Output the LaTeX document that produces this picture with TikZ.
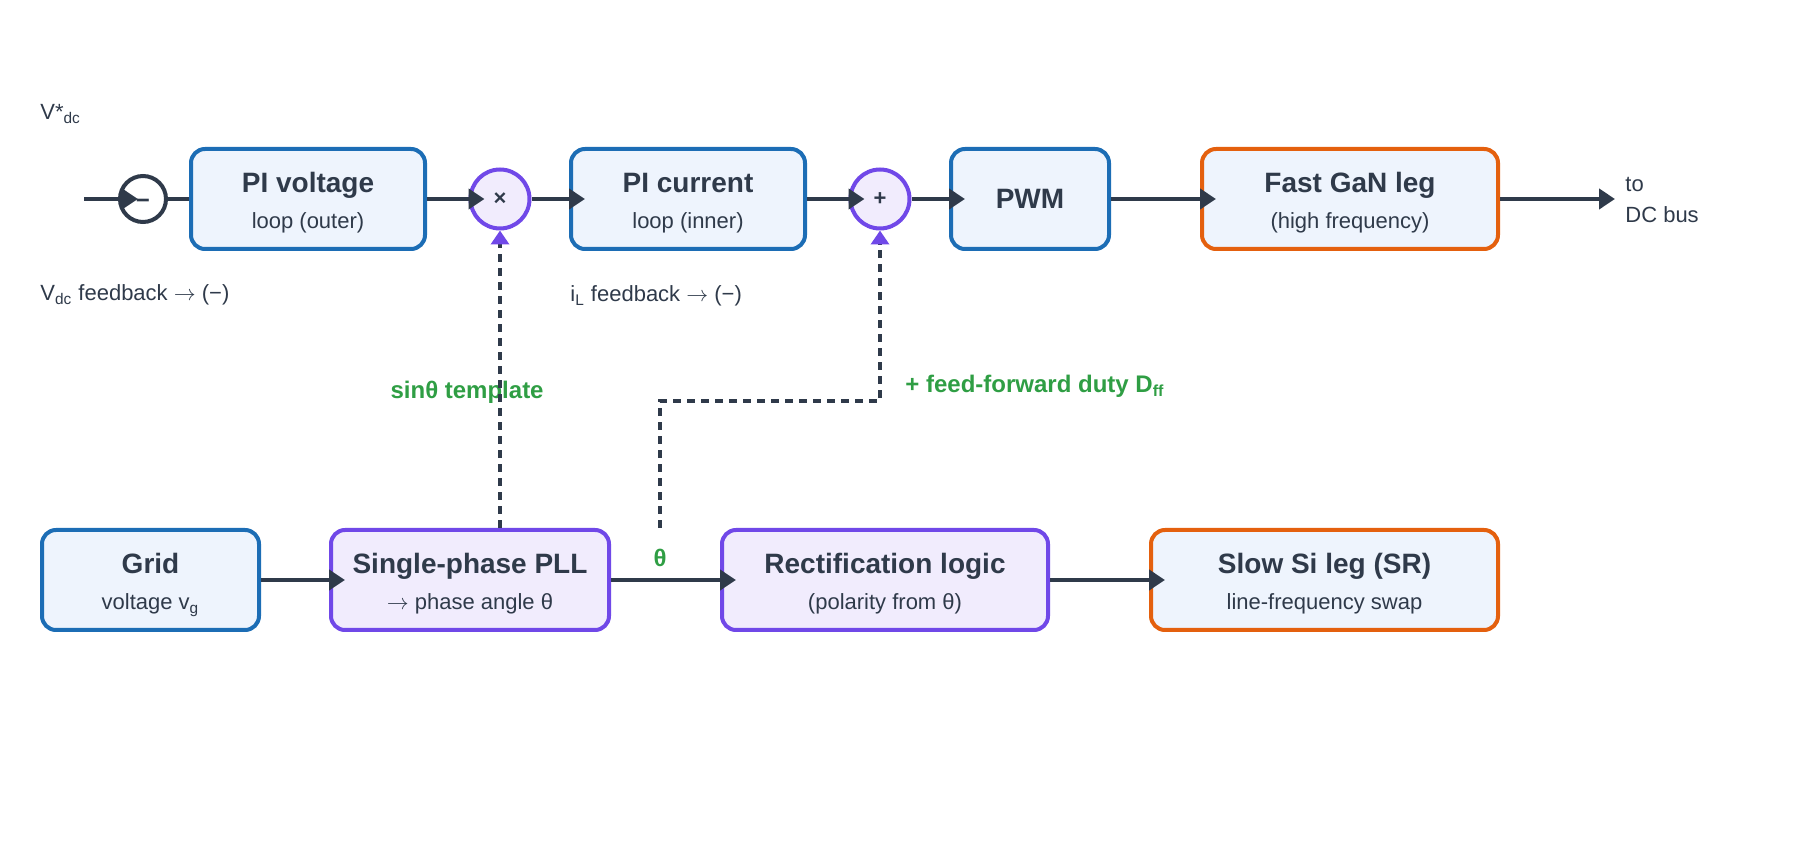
\documentclass[tikz,border=0pt]{standalone}
\usepackage{fontspec}
\setmainfont{Liberation Sans}
\usetikzlibrary{arrows.meta}
\definecolor{ink}{HTML}{2F3A4A}
\definecolor{cblue}{HTML}{1C6DB5}
\definecolor{cfill}{HTML}{EEF4FD}
\definecolor{cpurple}{HTML}{7048E8}
\definecolor{cpfill}{HTML}{F1ECFD}
\definecolor{corange}{HTML}{E4600E}
\definecolor{cgreen}{HTML}{2F9E44}
\newcommand{\rarr}{$\rightarrow$}
\begin{document}
\begin{tikzpicture}[x=0.5pt,y=-0.5pt,
  box/.style={draw, rounded corners=7pt, line width=2pt, inner sep=0pt, minimum height=50pt},
  bluebox/.style={box, draw=cblue, fill=cfill},
  purplebox/.style={box, draw=cpurple, fill=cpfill},
  orangebox/.style={box, draw=corange, fill=cfill},
  title/.style={anchor=base, font=\fontsize{14}{16}\selectfont\bfseries, text=ink, inner sep=0pt},
  sub/.style={anchor=base, font=\fontsize{11}{13}\selectfont, text=ink, inner sep=0pt},
  lbl/.style={anchor=base west, font=\fontsize{11}{13}\selectfont, text=ink, inner sep=0pt},
  glbl/.style={font=\fontsize{12}{14}\selectfont\bfseries, text=cgreen, inner sep=0pt},
  junction/.style={circle, line width=2pt, inner sep=0pt, minimum size=29.5pt, draw=cpurple, fill=cpfill, text=ink, font=\fontsize{11}{13}\selectfont\bfseries, text height=1.5ex, text depth=0.25ex},
  conn/.style={draw=ink, line width=2pt, -{Triangle[length=8pt,width=10pt]}, shorten >=-8pt},
  plainconn/.style={draw=ink, line width=2pt},
  dconn/.style={draw=ink, line width=2pt, dash pattern=on 4pt off 3pt, -{Triangle[length=7pt,width=9pt,color=cpurple]}}
]
\useasboundingbox (0,0) rectangle (1800,860);

% top row
\node[circle, draw=ink, fill=white, line width=2pt, inner sep=0pt, minimum size=23pt, text=ink, font=\fontsize{12}{14}\selectfont\bfseries, text height=1.5ex, text depth=0.25ex] (minus) at (143,199) {\raisebox{-1.3pt}{−}};
\node[bluebox, minimum width=117pt] (pv) at (308,199) {};
\node[junction] (mul) at (500,199) {×};
\node[bluebox, minimum width=117pt] (pc) at (688,199) {};
\node[junction] (add) at (880,199) {+};
\node[bluebox, minimum width=79pt] (pwm) at (1030,199) {};
\node[orangebox, minimum width=148pt] (gan) at (1350,199) {};

\node[title] (pvt) at (308,193) {PI voltage};
\node[sub] (pvs) at (308,229) {loop (outer)};
\node[title] (pct) at (688,193) {PI current};
\node[sub] (pcs) at (688,229) {loop (inner)};
\node[title] (pwmt) at (1030,209) {PWM};
\node[title] (gant) at (1350,193) {Fast GaN leg};
\node[sub] (gans) at (1350,229) {(high frequency)};

% bottom row
\node[bluebox, minimum width=108.5pt] (grid) at (150.5,580) {};
\node[purplebox, minimum width=139pt] (pll) at (470,580) {};
\node[purplebox, minimum width=163pt] (rect) at (885,580) {};
\node[orangebox, minimum width=173.5pt] (slow) at (1324.5,580) {};

\node[title] (gridt) at (150.5,574) {Grid};
\node[sub] (grids) at (150.5,610) {voltage v\textsubscript{g}};
\node[title] (pllt) at (470,574) {Single-phase PLL};
\node[sub] (plls) at (470,610) {\rarr{} phase angle θ};
\node[title] (rectt) at (885,574) {Rectification logic};
\node[sub] (rects) at (885,610) {(polarity from θ)};
\node[title] (slowt) at (1324.5,574) {Slow Si leg (SR)};
\node[sub] (slows) at (1324.5,610) {line-frequency swap};

% labels
\node[lbl] (vref) at (40,120) {V*\textsubscript{dc}};
\node[lbl] (vfb) at (40,301) {V\textsubscript{dc} feedback \rarr{} (−)};
\node[lbl] (ifb) at (570,302) {i\textsubscript{L} feedback \rarr{} (−)};
\node[lbl] (tolbl) at (1625,192) {to};
\node[lbl] (buslbl) at (1625,223) {DC bus};
\node[glbl, anchor=base east] (sinl) at (544,399) {sinθ template};
\node[glbl, anchor=base west] (ffl) at (905,393) {+ feed-forward duty D\textsubscript{ff}};
\node[glbl, anchor=base] (thl) at (660,567) {θ};

% connectors
\coordinate (vin) at (84,199);
\coordinate (out) at (1615,199);
\draw[conn, shorten >=-10pt] (vin) -- (minus);
\draw[plainconn] (minus) -- (pv);
\draw[conn] (pv) -- (mul);
\draw[conn] (mul) -- (pc);
\draw[conn] (pc) -- (add);
\draw[conn] (add) -- (pwm);
\draw[conn] (pwm) -- (gan);
\draw[conn, shorten >=0pt] (gan) -- (out);

\draw[conn] (grid) -- (pll);
\draw[conn] (pll) -- (rect);
\draw[conn] (rect) -- (slow);

\draw[dconn] (mul |- pll.north) -- (mul.south);
\coordinate (ffs) at (660,528);
\coordinate (ffc) at (660,401);
\draw[dconn] (ffs) -- (ffc) -| (add.south);
\end{tikzpicture}
\end{document}
